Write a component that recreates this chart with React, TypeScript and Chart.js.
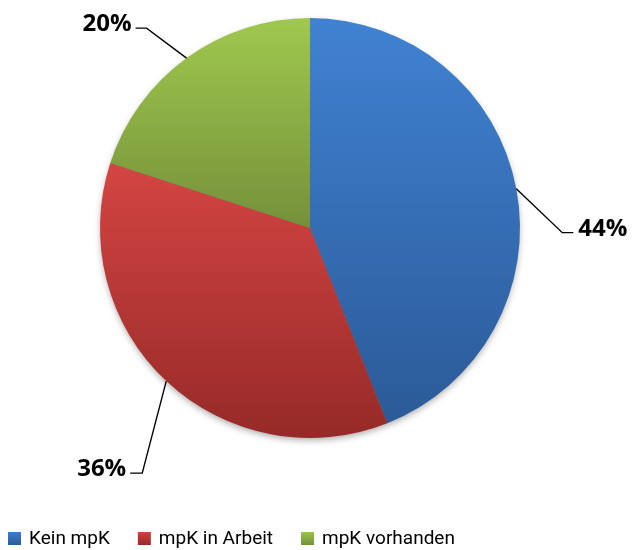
import React, { useEffect, useRef } from "react";
import { Chart, registerables } from "chart.js";
Chart.register(...registerables);

const categories = ["Kein mpK", "mpK in Arbeit", "mpK vorhanden"];
const values = [44, 36, 20];
const percentLabels = ["44%", "36%", "20%"];

const topColors = ["#4082d2", "#d44543", "#a0c84e"];
const bottomColors = ["#2b5a97", "#962a28", "#74913a"];

// leader line geometry per slice: elbow offset from edge point, horizontal length
const leaders = [
  { dx: 46, dy: 44, h: 11 },
  { dx: -24, dy: 92, h: -12 },
  { dx: -40, dy: -30, h: -11 },
];

const FONT = "'Open Sans', 'Noto Sans', sans-serif";
const LEGEND_FONT = "Roboto, 'Noto Sans', sans-serif";

function geom(chart: any) {
  const a = chart.chartArea;
  const cx = (a.left + a.right) / 2;
  const cy = (a.top + a.bottom) / 2;
  const r = Math.min(a.right - a.left, a.bottom - a.top) / 2;
  return { cx, cy, r };
}

function sliceAngles(i: number) {
  const total = values.reduce((s, v) => s + v, 0);
  let cum = 0;
  for (let k = 0; k < i; k++) cum += values[k];
  const a0 = -Math.PI / 2 + (2 * Math.PI * cum) / total;
  const a1 = a0 + (2 * Math.PI * values[i]) / total;
  return [a0, a1];
}

const decorPlugin = {
  id: "decor",
  beforeDatasetsDraw(chart: any) {
    const ctx = chart.ctx;
    const { cx, cy, r } = geom(chart);
    ctx.save();
    ctx.shadowColor = "rgba(0,0,0,0.35)";
    ctx.shadowBlur = 7;
    ctx.shadowOffsetY = 3;
    ctx.beginPath();
    ctx.arc(cx, cy, r - 1, 0, Math.PI * 2);
    ctx.fillStyle = "#777";
    ctx.fill();
    ctx.restore();
  },
  afterDraw(chart: any) {
    const ctx = chart.ctx;
    const { cx, cy, r } = geom(chart);
    ctx.save();
    // leader lines + labels
    for (let i = 0; i < values.length; i++) {
      const [a0, a1] = sliceAngles(i);
      const mid = (a0 + a1) / 2;
      const ex = cx + Math.cos(mid) * r;
      const ey = cy + Math.sin(mid) * r;
      const L = leaders[i];
      const bx = ex + L.dx;
      const by = ey + L.dy;
      const hx = bx + L.h;
      ctx.beginPath();
      ctx.moveTo(ex, ey);
      ctx.lineTo(bx, by);
      ctx.lineTo(hx, by);
      ctx.strokeStyle = "#000";
      ctx.lineWidth = 1.4;
      ctx.stroke();
      ctx.font = `bold 24px ${FONT}`;
      ctx.fillStyle = "#000";
      ctx.textBaseline = "alphabetic";
      if (L.h > 0) {
        ctx.textAlign = "left";
        ctx.fillText(percentLabels[i], hx + 5, by + 3);
      } else {
        ctx.textAlign = "right";
        ctx.fillText(percentLabels[i], hx - 4, by + 3);
      }
    }
    // legend
    ctx.font = `19px ${LEGEND_FONT}`;
    ctx.textAlign = "left";
    ctx.textBaseline = "middle";
    let x = 8;
    const y = 538;
    for (let i = 0; i < categories.length; i++) {
      const g = ctx.createLinearGradient(0, y - 7, 0, y + 7);
      g.addColorStop(0, topColors[i]);
      g.addColorStop(1, bottomColors[i]);
      ctx.fillStyle = g;
      ctx.fillRect(x, y - 6, 13, 13);
      ctx.fillStyle = "#000";
      ctx.fillText(categories[i], x + 21, y + 1);
      x += 21 + ctx.measureText(categories[i]).width + 28;
    }
    ctx.restore();
  },
};

export default function App() {
  const ref = useRef<HTMLCanvasElement>(null);
  useEffect(() => {
    const canvas = ref.current!;
    const chart = new Chart(canvas, {
      type: "pie",
      data: {
        labels: categories,
        datasets: [
          {
            data: values,
            borderWidth: 0,
            backgroundColor: (c: any) => {
              const chart = c.chart;
              if (!chart.chartArea || c.dataIndex === undefined) return topColors[0];
              const i = c.dataIndex;
              const { cx, cy, r } = geom(chart);
              const [a0, a1] = sliceAngles(i);
              let minY = cy, maxY = cy;
              for (let k = 0; k <= 200; k++) {
                const a = a0 + ((a1 - a0) * k) / 200;
                const yy = cy + Math.sin(a) * r;
                minY = Math.min(minY, yy);
                maxY = Math.max(maxY, yy);
              }
              const g = chart.ctx.createLinearGradient(0, minY, 0, maxY);
              g.addColorStop(0, topColors[i]);
              g.addColorStop(1, bottomColors[i]);
              return g;
            },
          },
        ],
      },
      options: {
        animation: false,
        responsive: false,
        events: [],
        layout: { padding: { top: 18, bottom: 112, left: 100, right: 113 } },
        plugins: { legend: { display: false }, tooltip: { enabled: false } },
      },
      plugins: [decorPlugin],
    });
    return () => chart.destroy();
  }, []);
  return (
    <div style={{ position: "absolute", left: 0, top: 0, width: 633, height: 550, background: "#fff" }}>
      <canvas ref={ref} width={633} height={550} style={{ display: "block" }} />
    </div>
  );
}
